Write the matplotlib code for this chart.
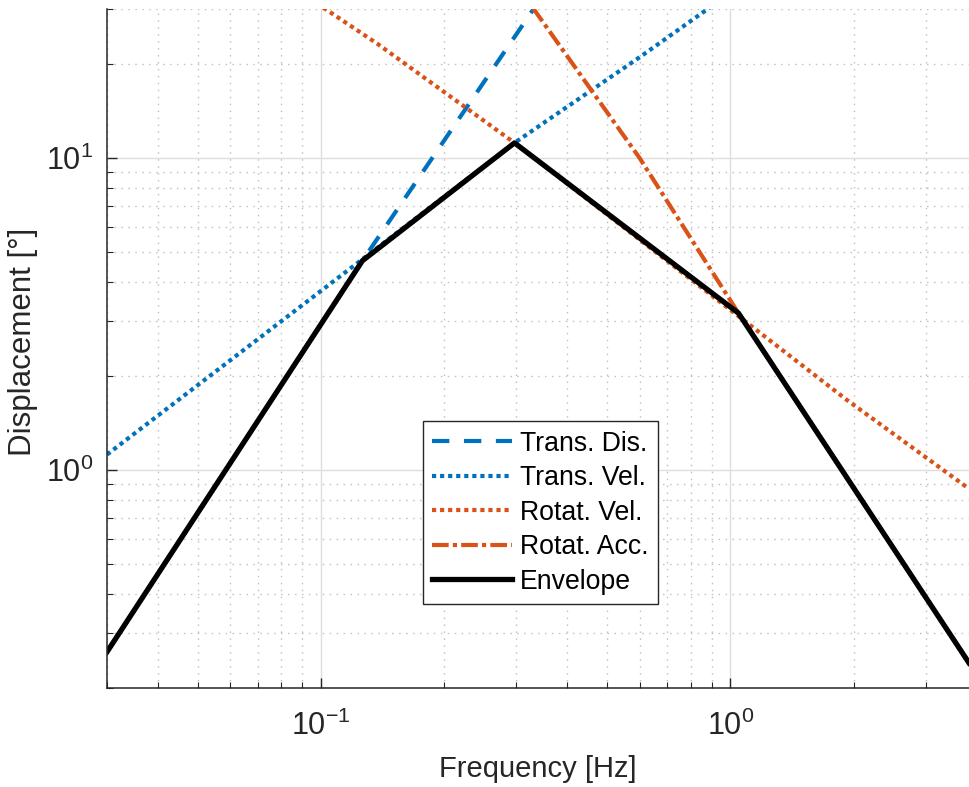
import matplotlib
matplotlib.use('Agg')
from matplotlib import pyplot as plt
from matplotlib import ticker

# ********** Data **********

transDisFreq = [0.03, 0.1262, 0.3323]
transDisAmp = [0.261, 4.68, 30.3]

transVelFreq = [0.03, 0.297, 0.6, 0.89]
transVelAmp = [1.12, 11.17, 21.0, 30.3]

rotVelFreq = [0.1013, 0.1374, 0.297, 1.926, 3.83]
rotVelAmp = [30.3, 23.2, 11.17, 1.676, 0.87]

rotAccFreq = [0.329, 0.6, 1.047, 3.83]
rotAccAmp = [30.3, 10.0, 3.18, 0.2406]

envelopeFreq = [0.03, 0.1262, 0.297, 1.047, 3.83]
envelopeAmp = [0.261, 4.68, 11.17, 3.18, 0.2406]

# ********** Style **********

BLUE = '#0072BD'
ORANGE = '#D95319'
DARK = '#262626'

plt.rcParams['font.family'] = ['Liberation Sans', 'DejaVu Sans']
plt.rcParams['mathtext.fontset'] = 'custom'
plt.rcParams['mathtext.rm'] = 'Liberation Sans'
plt.rcParams['mathtext.it'] = 'Liberation Sans:italic'
plt.rcParams['mathtext.default'] = 'regular'
plt.rcParams['lines.scale_dashes'] = False

DASHED = (0, (12.5, 10.5))
DOTTED = (0, (3.0, 2.8))
DASHDOT = (0, (12, 3, 3, 3))

# ********** Figure **********

fig = plt.figure(figsize=(9.69, 7.87), dpi=100)
ax = fig.add_axes([107/969, 99/787, 862/969, 679/787])

ax.plot(transDisFreq, transDisAmp, color=BLUE, linewidth=3.0, linestyle=DASHED, dash_capstyle='butt', label='Trans. Dis.')
ax.plot(transVelFreq, transVelAmp, color=BLUE, linewidth=3.0, linestyle=DOTTED, dash_capstyle='butt', label='Trans. Vel.')
ax.plot(rotVelFreq, rotVelAmp, color=ORANGE, linewidth=3.0, linestyle=DOTTED, dash_capstyle='butt', label='Rotat. Vel.')
ax.plot(rotAccFreq, rotAccAmp, color=ORANGE, linewidth=3.0, linestyle=DASHDOT, dash_capstyle='butt', label='Rotat. Acc.')
ax.plot(envelopeFreq, envelopeAmp, color='black', linewidth=3.8, label='Envelope')

ax.set_xscale('log')
ax.set_yscale('log')
ax.set_xlim(0.03, 3.83)
ax.set_ylim(0.2, 30)
ax.xaxis.set_minor_formatter(ticker.NullFormatter())
ax.yaxis.set_minor_formatter(ticker.NullFormatter())

ax.set_axisbelow(True)
ax.grid(True, which='major', color='#dedede', linewidth=1.0, linestyle='-')
ax.grid(True, which='minor', color='#c2c2c2', linewidth=1.0, linestyle=(0, (1.1, 3.9)))

ax.tick_params(which='both', direction='in', color=DARK, labelcolor=DARK, top=False, right=False)
ax.tick_params(which='major', length=7.2, width=1.0, labelsize=22)
ax.tick_params(which='minor', length=4.3, width=0.8)
ax.tick_params(axis='x', pad=16)
ax.tick_params(axis='y', pad=10)

for side in ['top', 'right']:
	ax.spines[side].set_visible(False)
for side in ['left', 'bottom']:
	ax.spines[side].set_color(DARK)
	ax.spines[side].set_linewidth(1.1)

ax.set_xlabel('Frequency [Hz]', fontsize=21, color=DARK, labelpad=10)
ax.set_ylabel('Displacement [°]', fontsize=22.5, color=DARK)
ax.yaxis.set_label_coords(-0.080, 0.51)

legend = ax.legend(loc='upper left', bbox_to_anchor=(0.3666, 0.3928), fontsize=19.2,
	handlelength=3.0, handletextpad=0.3, labelspacing=0.32, borderpad=0.35, borderaxespad=0,
	frameon=True, fancybox=False, edgecolor=DARK, framealpha=1)
legend.get_frame().set_linewidth(1.0)

fig.savefig('out.png', dpi=100)
